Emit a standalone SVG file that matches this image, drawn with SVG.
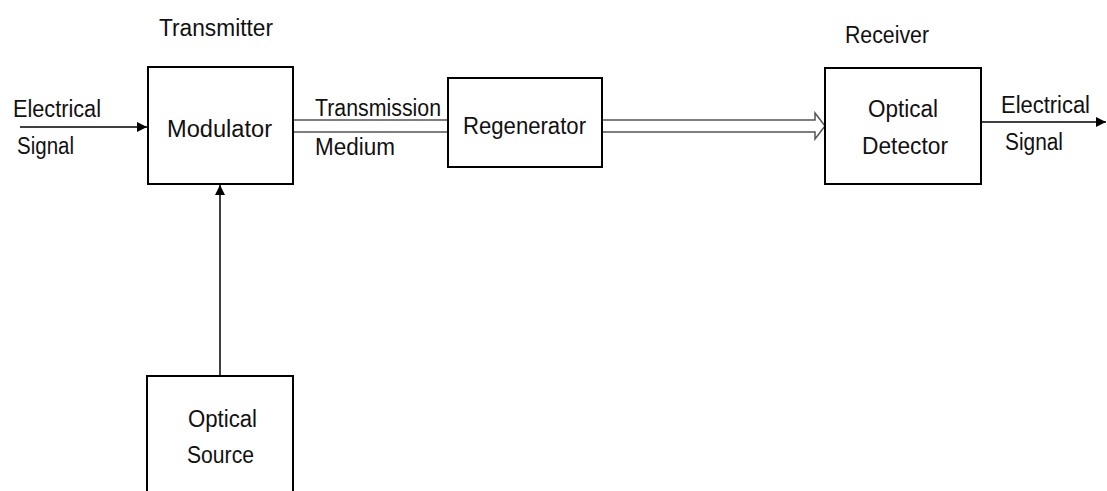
<svg xmlns="http://www.w3.org/2000/svg" width="1107" height="491" viewBox="0 0 1107 491">
<style>
  .box { fill: #ffffff; stroke: #000000; stroke-width: 2; }
  .lbl { font-family: "Liberation Sans", Arial, sans-serif; font-size: 23px; fill: #111111; }
  .wire { stroke: #000000; stroke-width: 1.5; fill: none; }
  .fiber { stroke: #555555; stroke-width: 1.5; fill: none; }
</style>
<defs>
  <marker id="arrow" viewBox="0 0 10 10" refX="10" refY="5" markerWidth="10" markerHeight="10" markerUnits="userSpaceOnUse" orient="auto">
    <path d="M0,0 L10,5 L0,10 Z" fill="#000000"/>
  </marker>
</defs>
<rect width="1107" height="491" fill="#ffffff"/>

<g id="connectors">
  <line class="wire" x1="20" y1="127" x2="147" y2="127" marker-end="url(#arrow)"/>
  <line class="wire" x1="220" y1="376" x2="220" y2="185" marker-end="url(#arrow)"/>
  <line class="fiber" x1="293" y1="120" x2="448" y2="120"/>
  <line class="fiber" x1="293" y1="132" x2="448" y2="132"/>
  <path class="fiber" d="M602,120 L815,120 L815,113 L825,126 L815,139 L815,132 L602,132"/>
  <line class="wire" x1="981" y1="122" x2="1106" y2="122" marker-end="url(#arrow)"/>
</g>

<g id="labels">
  <text class="lbl" x="159" y="36" textLength="114" lengthAdjust="spacingAndGlyphs">Transmitter</text>
  <text class="lbl" x="845" y="43" textLength="84" lengthAdjust="spacingAndGlyphs">Receiver</text>
  <text class="lbl" x="13" y="117" textLength="88" lengthAdjust="spacingAndGlyphs">Electrical</text>
  <text class="lbl" x="17" y="154" textLength="57" lengthAdjust="spacingAndGlyphs">Signal</text>
  <text class="lbl" x="315" y="116" textLength="126" lengthAdjust="spacingAndGlyphs">Transmission</text>
  <text class="lbl" x="315" y="155" textLength="80" lengthAdjust="spacingAndGlyphs">Medium</text>
  <text class="lbl" x="1001" y="113" textLength="89" lengthAdjust="spacingAndGlyphs">Electrical</text>
  <text class="lbl" x="1005" y="150" textLength="58" lengthAdjust="spacingAndGlyphs">Signal</text>
</g>

<g id="modulator">
  <rect class="box" x="148" y="67" width="145" height="117"/>
  <text class="lbl" x="167" y="137" textLength="105" lengthAdjust="spacingAndGlyphs">Modulator</text>
</g>

<g id="regenerator">
  <rect class="box" x="448" y="78" width="154" height="89"/>
  <text class="lbl" x="463" y="134" textLength="123" lengthAdjust="spacingAndGlyphs">Regenerator</text>
</g>

<g id="optical-detector">
  <rect class="box" x="825" y="68" width="156" height="116"/>
  <text class="lbl" x="868" y="117" textLength="70" lengthAdjust="spacingAndGlyphs">Optical</text>
  <text class="lbl" x="862" y="154" textLength="86" lengthAdjust="spacingAndGlyphs">Detector</text>
</g>

<g id="optical-source">
  <rect class="box" x="147" y="376" width="146" height="125"/>
  <text class="lbl" x="188" y="427" textLength="69" lengthAdjust="spacingAndGlyphs">Optical</text>
  <text class="lbl" x="187" y="463" textLength="67" lengthAdjust="spacingAndGlyphs">Source</text>
</g>
</svg>
